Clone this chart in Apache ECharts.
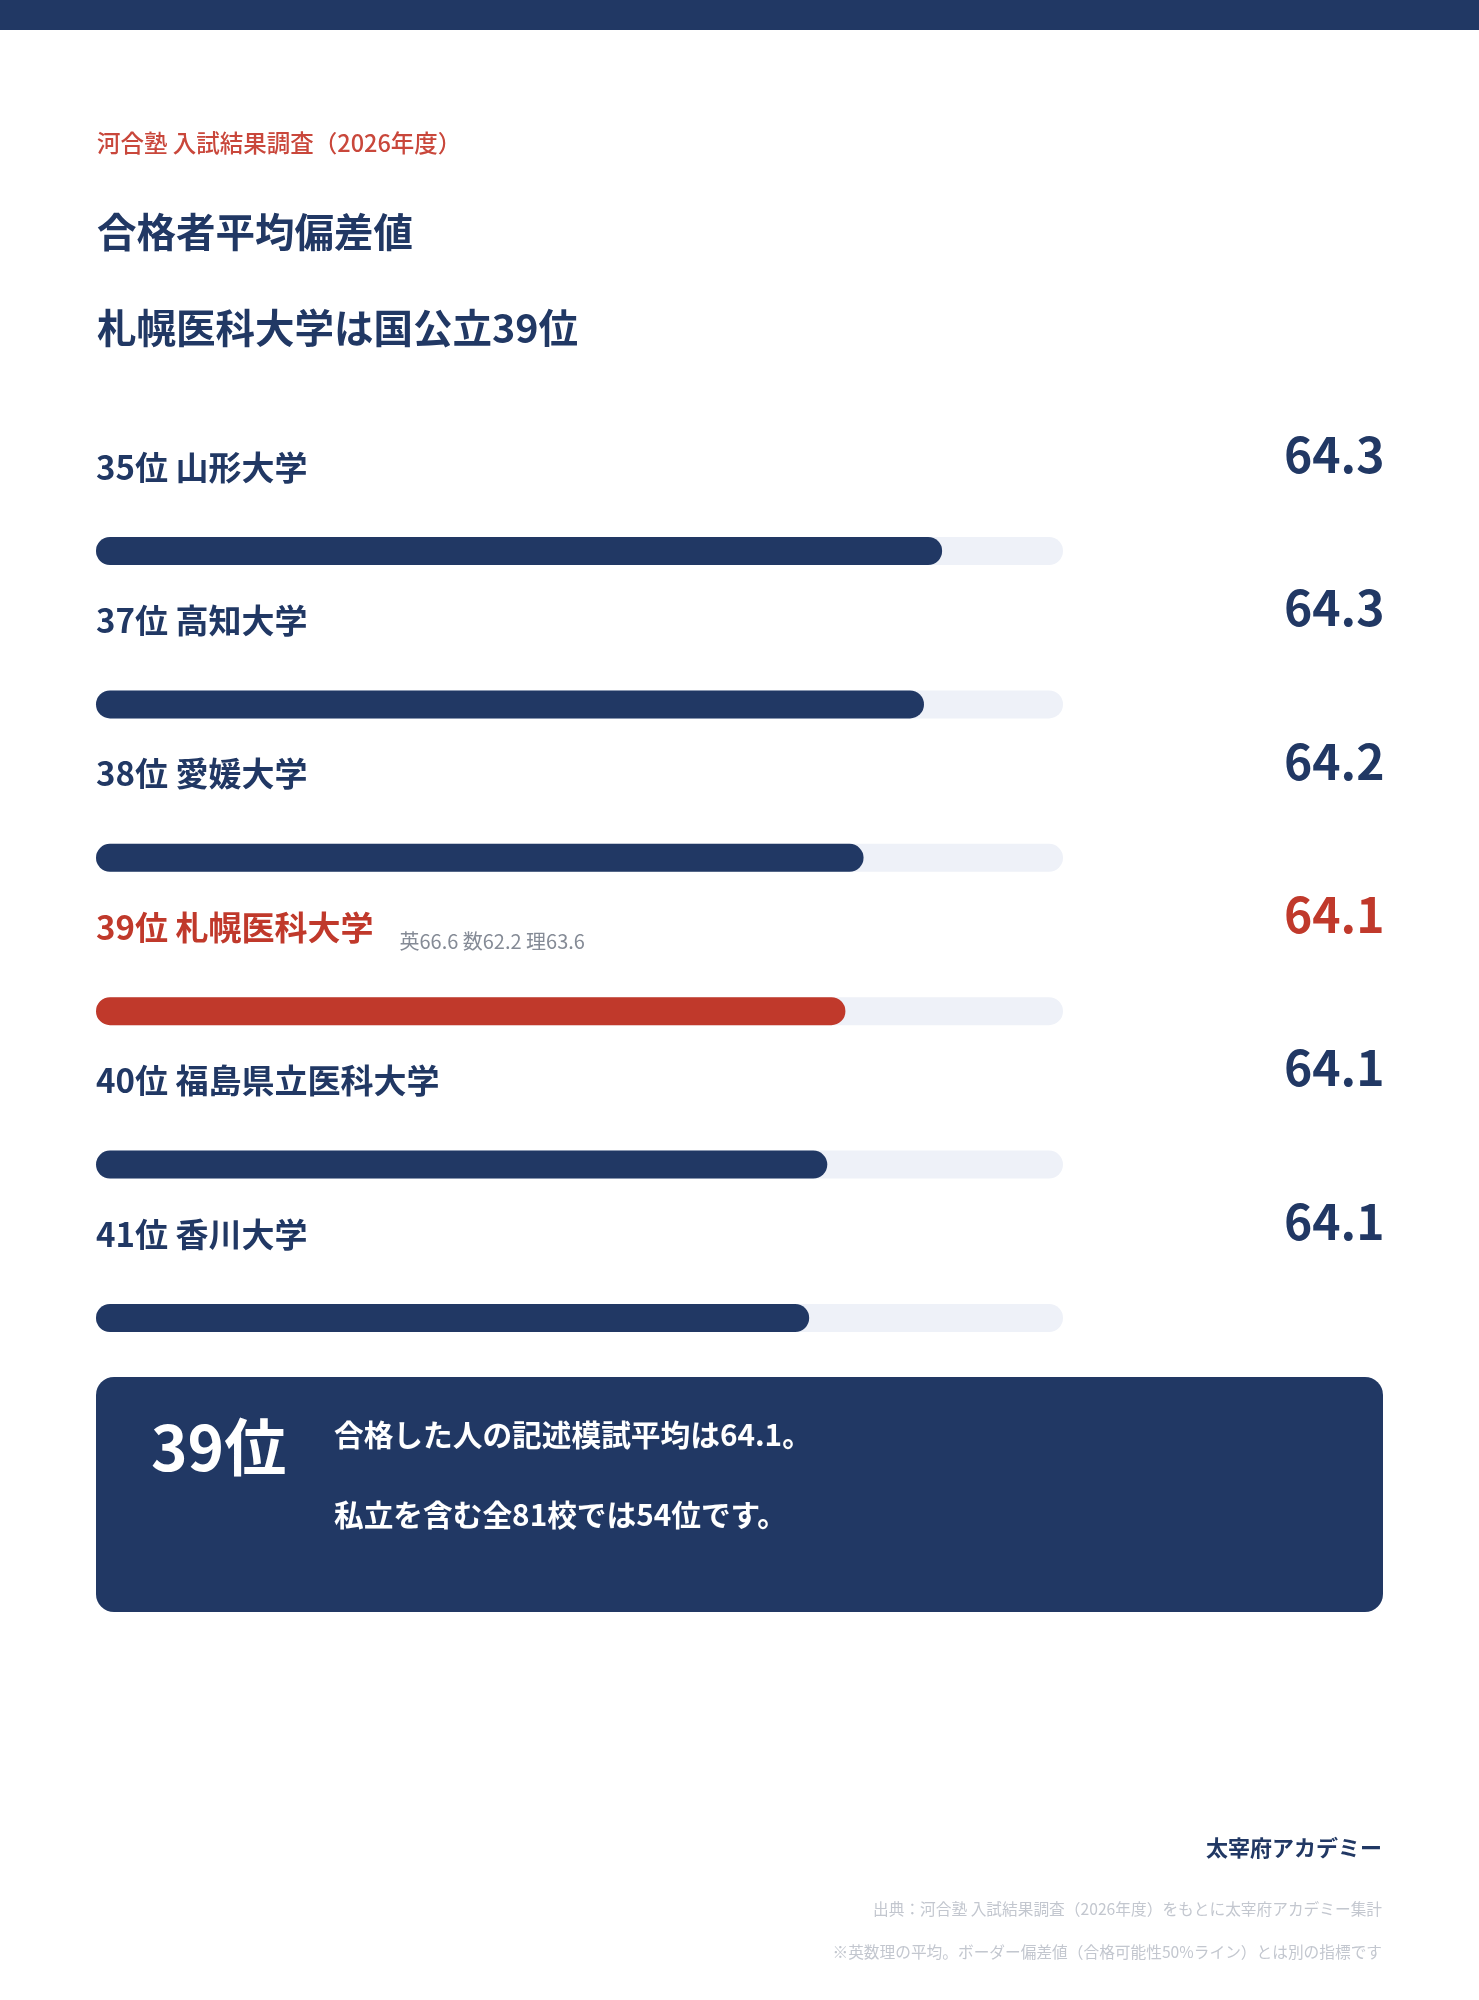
<!DOCTYPE html>
<html lang="ja">
<head>
<meta charset="utf-8">
<title>合格者平均偏差値</title>
<script src="https://cdn.jsdelivr.net/npm/echarts@6/dist/echarts.min.js"></script>
<style>
  html, body { margin: 0; padding: 0; background: #fff; }
  #chart { width: 1479px; height: 2000px; }
</style>
</head>
<body>
<div id="chart"></div>
<script>
// 順位・大学名・合格者平均偏差値（小数2桁はバーの長さから読んだ推定値）
const ranks = [35, 37, 38, 39, 40, 41];
const schools = ['山形大学', '高知大学', '愛媛大学', '札幌医科大学', '福島県立医科大学', '香川大学'];
const scores = [64.30, 64.27, 64.17, 64.14, 64.11, 64.08];
const focusIndex = 3;   // 札幌医科大学
const focusSubjects = ['英66.6', '数62.2', '理63.6'];
const xMin = 62.9, xMax = 64.5;
const allSchools = 81, allRank = 54;

const NAVY = '#213864';
const RED = '#c0392b';
const TRACK = '#eef1f8';
const FONT = '"Noto Sans CJK JP", "Noto Sans", sans-serif';

let chart = echarts.init(document.getElementById('chart'));

let rowNames = ranks.map((r, i) => r + '位 ' + schools[i]);

// graphic のテキスト
function txt(text, x, y, size, color, weight, align) {
    return {
        type: 'text', silent: true, z: 10,
        style: {
            text: text, x: x, y: y, fill: color,
            fontSize: size, fontWeight: weight || 'bold', fontFamily: FONT,
            textAlign: align || 'left', textVerticalAlign: 'middle'
        }
    };
}

let option = {
    animation: false,
    textStyle: {fontFamily: FONT},
    grid: {left: 96, right: 416, top: 474.3, height: 920.4},
    xAxis: {type: 'value', min: xMin, max: xMax, show: false},
    yAxis: {type: 'category', inverse: true, data: rowNames, show: false},
    series: [
        {
            type: 'bar',
            barWidth: 28,
            silent: true,
            showBackground: true,
            backgroundStyle: {color: TRACK, borderRadius: 14},
            itemStyle: {borderRadius: 14},
            data: scores.map((v, i) => ({value: v, itemStyle: {color: i === focusIndex ? RED : NAVY}})),
            label: {
                show: true,
                position: [0, -70],
                align: 'left',
                verticalAlign: 'middle',
                formatter: function (p) {
                    if (p.dataIndex === focusIndex) {
                        return '{hi|' + rowNames[p.dataIndex] + '}{sub|' + focusSubjects.join(' ') + '}';
                    }
                    return '{main|' + rowNames[p.dataIndex] + '}';
                },
                rich: {
                    main: {fontSize: 33, fontWeight: 'bold', color: NAVY, lineHeight: 48, fontFamily: FONT},
                    hi: {fontSize: 33, fontWeight: 'bold', color: RED, lineHeight: 48, fontFamily: FONT},
                    sub: {fontSize: 20, color: '#858b96', lineHeight: 20, verticalAlign: 'bottom',
                          padding: [0, 0, 0, 26], fontFamily: FONT}
                }
            }
        },
        {
            // 右側の数値ラベル（軸の右端に置いてずらす）
            type: 'scatter',
            silent: true,
            clip: false,
            symbolSize: 1,
            itemStyle: {color: 'rgba(0,0,0,0)', opacity: 1},
            data: scores.map((v, i) => ({
                value: [xMax, i],
                label: {color: i === focusIndex ? RED : NAVY}
            })),
            label: {
                show: true,
                position: [322, -96],
                align: 'right',
                verticalAlign: 'middle',
                fontSize: 48,
                fontWeight: 'bold',
                fontFamily: FONT,
                opacity: 1,
                formatter: function (p) { return scores[p.dataIndex].toFixed(1); }
            }
        }
    ],
    graphic: [
        {type: 'rect', silent: true, z: 1, shape: {x: 0, y: 0, width: 1479, height: 30}, style: {fill: NAVY}},
        txt('河合塾 入試結果調査（2026年度）', 97, 143, 23.5, '#c9473b', 500),
        txt('合格者平均偏差値', 97, 232, 39.5, NAVY),
        txt(schools[focusIndex] + 'は国公立' + ranks[focusIndex] + '位', 97, 328, 39.5, NAVY),
        // まとめの箱
        {type: 'rect', silent: true, z: 1, shape: {x: 96, y: 1377, width: 1287, height: 235, r: 18}, style: {fill: NAVY}},
        txt(ranks[focusIndex] + '位', 151, 1447, 62, '#ffffff', 'bold'),
        txt('合格した人の記述模試平均は' + scores[focusIndex].toFixed(1) + '。', 334, 1435, 29.7, '#ffffff'),
        txt('私立を含む全' + allSchools + '校では' + allRank + '位です。', 334, 1515, 29.7, '#ffffff'),
        // フッター
        txt('太宰府アカデミー', 1382, 1848, 22, NAVY, 'bold', 'right'),
        txt('出典：河合塾 入試結果調査（2026年度）をもとに太宰府アカデミー集計', 1382, 1909, 15.7, '#c3c7cf', 'normal', 'right'),
        txt('※英数理の平均。ボーダー偏差値（合格可能性50%ライン）とは別の指標です', 1382, 1952, 15.7, '#c3c7cf', 'normal', 'right')
    ]
};

chart.setOption(option);
</script>
</body>
</html>
